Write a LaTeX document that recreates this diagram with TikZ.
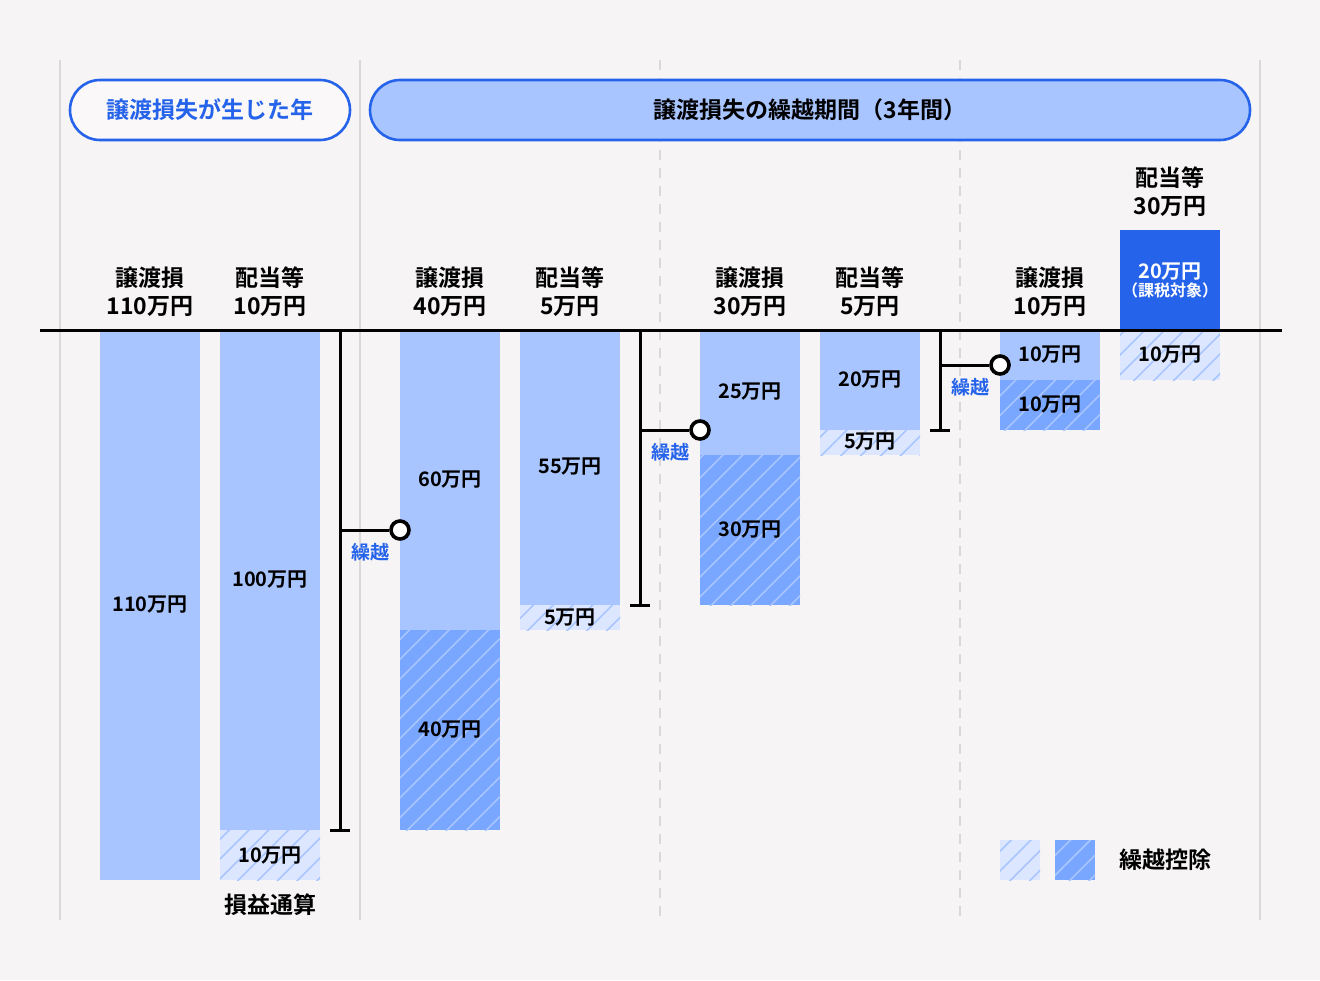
\documentclass[tikz,border=0pt]{standalone}
\usepackage{fontspec}
\setmainfont{Noto Sans CJK JP}[BoldFont={Noto Sans CJK JP Bold}]
\usetikzlibrary{patterns.meta}
\definecolor{bg}{HTML}{F6F4F5}
\definecolor{lite}{HTML}{A9C5FF}
\definecolor{pale}{HTML}{DCE7FF}
\definecolor{mid}{HTML}{79A6FF}
\definecolor{deep}{HTML}{2563EB}
\definecolor{grid}{HTML}{DAD8D9}
\tikzset{
  bar/.style={fill=lite},
  hpale/.style={fill=pale,postaction={pattern={Lines[angle=45,distance=7pt,line width=0.8pt]},pattern color=lite}},
  hmid/.style={fill=mid,postaction={pattern={Lines[angle=45,distance=7pt,line width=0.8pt]},pattern color=lite}},
  val/.style={font=\bfseries\fontsize{10}{12}\selectfont},
  head/.style={font=\bfseries\fontsize{11.5}{14}\selectfont,align=center},
  carry/.style={font=\bfseries\fontsize{9.5}{11}\selectfont,text=deep},
  brk/.style={line width=1.5pt},
  knob/.style={circle,draw,line width=1.8pt,fill=white,minimum size=9pt,inner sep=0pt},
}
\begin{document}
\begin{tikzpicture}[x=0.5pt,y=-0.5pt]
\fill[bg] (0,0) rectangle (1320,980);
\useasboundingbox (0,0) rectangle (1320,980);
\foreach \x in {60,360,1260} \draw[grid,line width=1pt] (\x,60) -- (\x,920);
\foreach \x in {660,960} \draw[grid,line width=1pt,dash pattern=on 5pt off 4pt] (\x,60) -- (\x,920);
% headers
\draw[deep,line width=1.3pt,fill=white!40!bg,rounded corners=15pt] (70,80) rectangle (350,140);
\node[head,text=deep] (yr) at (210,110) {譲渡損失が生じた年};
\draw[deep,line width=1.3pt,fill=lite,rounded corners=15pt] (370,80) rectangle (1250,140);
\node[head] (span) at (810,110) {譲渡損失の繰越期間（3年間）};
% bars
\fill[bar] (100,330) rectangle (200,880);
\node[val] (a1) at (150,605) {110万円};
\fill[bar] (220,330) rectangle (320,830);
\node[val] (b1) at (270,580) {100万円};
\path[hpale] (220,830) rectangle (320,880);
\node[val] (b2) at (270,856) {10万円};
\node[head] (net) at (270,905) {損益通算};
\fill[bar] (400,330) rectangle (500,630);
\node[val] (c1) at (450,480) {60万円};
\path[hmid] (400,630) rectangle (500,830);
\node[val] (c2) at (450,730) {40万円};
\fill[bar] (520,330) rectangle (620,605);
\node[val] (d1) at (570,467) {55万円};
\path[hpale] (520,605) rectangle (620,630);
\node[val] (d2) at (570,618) {5万円};
\fill[bar] (700,330) rectangle (800,455);
\node[val] (e1) at (750,392) {25万円};
\path[hmid] (700,455) rectangle (800,605);
\node[val] (e2) at (750,530) {30万円};
\fill[bar] (820,330) rectangle (920,430);
\node[val] (f1) at (870,380) {20万円};
\path[hpale] (820,430) rectangle (920,455);
\node[val] (f2) at (870,442) {5万円};
\fill[bar] (1000,330) rectangle (1100,380);
\node[val] (g1) at (1050,355) {10万円};
\path[hmid] (1000,380) rectangle (1100,430);
\node[val] (g2) at (1050,405) {10万円};
\fill[deep] (1120,230) rectangle (1220,330);
\node[val,text=white,align=center] (h1) at (1170,280) {20万円\\[-3pt]{\fontsize{8}{10}\selectfont（課税対象）}};
\path[hpale] (1120,330) rectangle (1220,380);
\node[val] (h2) at (1170,355) {10万円};
% column heads
\node[head] (ha) at (150,292) {譲渡損\\110万円};
\node[head] (hb) at (270,292) {配当等\\10万円};
\node[head] (hc) at (450,292) {譲渡損\\40万円};
\node[head] (hd) at (570,292) {配当等\\5万円};
\node[head] (he) at (750,292) {譲渡損\\30万円};
\node[head] (hf) at (870,292) {配当等\\5万円};
\node[head] (hg) at (1050,292) {譲渡損\\10万円};
\node[head] (hh) at (1170,192) {配当等\\30万円};
\draw[line width=1.5pt] (40,330) -- (1282,330);
% carry-over brackets
\foreach \bx/\by/\bend/\cx in {340/530/830/400, 640/430/605/700, 940/365/430/1000}{
  \draw[brk] (\bx,330) -- (\bx,\bend);
  \draw[brk] (\bx-10,\bend) -- (\bx+10,\bend);
  \node[knob] (k\bx) at (\cx,\by) {};
  \draw[brk] (\bx,\by) -- (k\bx);
  \node[carry] at (\bx+30,\by+22) {繰越};
}
% legend
\path[hpale] (1000,840) rectangle (1040,880);
\path[hmid] (1055,840) rectangle (1095,880);
\node[head] (lg) at (1165,860) {繰越控除};
\end{tikzpicture}
\end{document}
